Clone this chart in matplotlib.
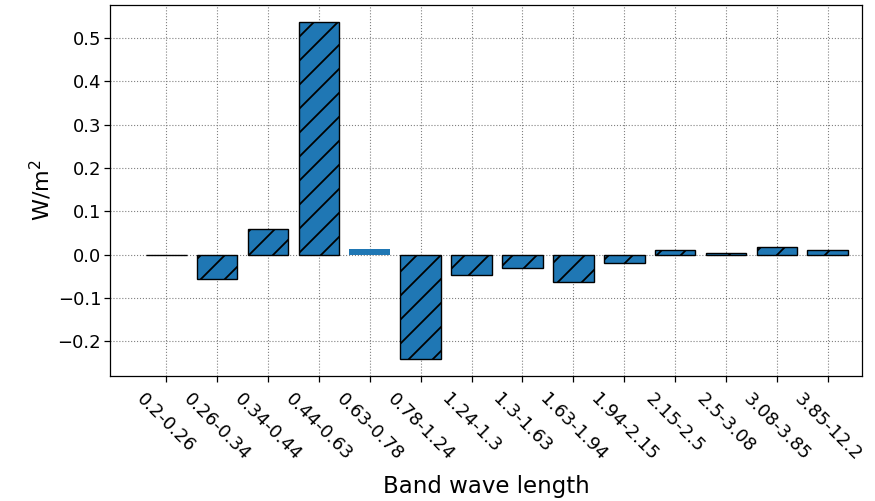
import matplotlib
matplotlib.use('Agg')
import matplotlib.pyplot as plt

bands = ['0.2-0.26', '0.26-0.34', '0.34-0.44', '0.44-0.63', '0.63-0.78',
         '0.78-1.24', '1.24-1.3', '1.3-1.63', '1.63-1.94', '1.94-2.15',
         '2.15-2.5', '2.5-3.08', '3.08-3.85', '3.85-12.2']
values = [-0.001, -0.056, 0.060, 0.537, 0.013, -0.240, -0.046, -0.030,
          -0.062, -0.018, 0.011, 0.003, 0.018, 0.011]
# the 0.63-0.78 bar is drawn plain, with no outline or hatch
outlined = [True, True, True, True, False, True, True, True, True, True,
            True, True, True, True]

# rendered at 72 dpi so the hatch spacing matches; sizes scaled up to compensate
s = 100 / 72
plt.rcParams['hatch.linewidth'] = 1.8
plt.rcParams['axes.linewidth'] = 0.9 * s
plt.rcParams['xtick.major.width'] = 0.9 * s
plt.rcParams['ytick.major.width'] = 0.9 * s
plt.rcParams['xtick.major.size'] = 4 * s
plt.rcParams['ytick.major.size'] = 4 * s

fig, ax = plt.subplots(figsize=(875 / 72, 501 / 72), dpi=72)
x = list(range(len(bands)))
bars = ax.bar(x, values, width=0.8, color='C0', edgecolor='black',
              linewidth=s, hatch='/', zorder=3)
for b, o in zip(bars, outlined):
    if not o:
        b.set_linewidth(0)
        b.set_hatch(None)

ax.set_xticks(x)
ax.set_xticklabels(bands, rotation=-45, fontsize=13 * s)
ax.tick_params(axis='y', labelsize=13 * s)
ax.tick_params(axis='x', pad=6 * s)
ax.set_xlim(-1.1, 13.67)
ax.set_ylim(-0.279, 0.576)
ax.grid(True, linestyle=':', color='gray', linewidth=0.8 * s, zorder=0)
ax.set_xlabel('Band wave length', fontsize=16.5 * s, labelpad=8 * s)
ax.set_ylabel('W/m$^2$', fontsize=16 * s)
fig.subplots_adjust(left=0.126, right=0.985, top=0.99, bottom=0.25)
fig.savefig('out.png', dpi=72)
